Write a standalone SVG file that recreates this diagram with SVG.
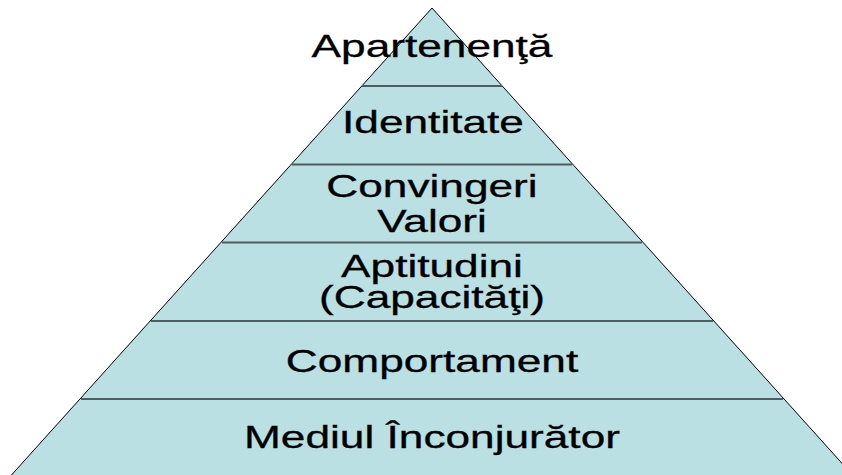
<svg xmlns="http://www.w3.org/2000/svg" width="842" height="475" viewBox="0 0 842 475">
<style>
.lbl{font-family:"Liberation Sans",Arial,sans-serif;font-size:30.5px;fill:#000;stroke:#000;stroke-width:0.3;text-anchor:middle}
.sep{stroke:#4d5e60;stroke-width:2}
</style>
<rect width="842" height="475" fill="#fff"/>
<g id="pyramid">
<polygon points="432,8 -2,490 866,490" fill="#bbe0e3" stroke="#000" stroke-width="1"/>
</g>
<g id="connectors">
<line class="sep" x1="362" y1="86" x2="502" y2="86"/>
<line class="sep" x1="292" y1="164.5" x2="572" y2="164.5"/>
<line class="sep" x1="222" y1="242.5" x2="642" y2="242.5"/>
<line class="sep" x1="151" y1="321" x2="713" y2="321"/>
<line class="sep" x1="81" y1="399" x2="783" y2="399"/>
</g>
<g id="n1"><text class="lbl" transform="translate(432,57) scale(1.45,1)">Apartenenţă</text></g>
<g id="n2"><text class="lbl" transform="translate(433,133) scale(1.45,1)">Identitate</text></g>
<g id="n3"><text class="lbl" transform="translate(432,197) scale(1.45,1)">Convingeri</text><text class="lbl" transform="translate(432,232) scale(1.45,1)">Valori</text></g>
<g id="n4"><text class="lbl" transform="translate(432,277) scale(1.45,1)">Aptitudini</text><text class="lbl" transform="translate(432,308) scale(1.45,1)">(Capacităţi)</text></g>
<g id="n5"><text class="lbl" transform="translate(432,372) scale(1.45,1)">Comportament</text></g>
<g id="n6"><text class="lbl" transform="translate(432,448) scale(1.45,1)">Mediul Înconjurător</text></g>
</svg>
